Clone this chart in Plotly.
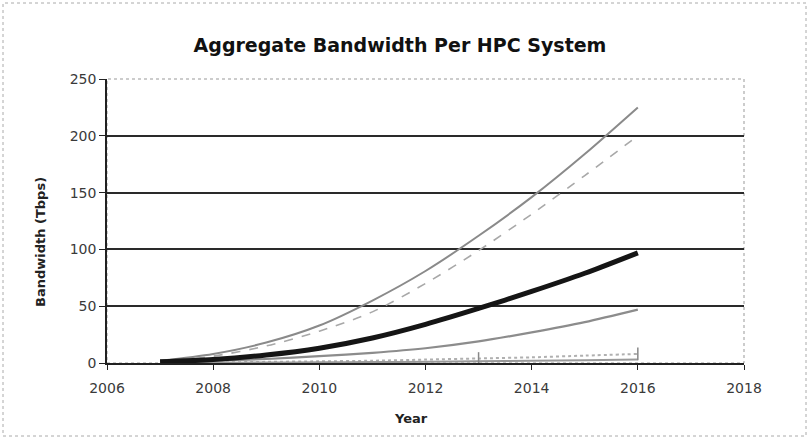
import plotly.graph_objects as go

# Projected aggregate bandwidth per HPC system (Tbps), one value per year
years = [2007, 2008, 2009, 2010, 2011, 2012, 2013, 2014, 2015, 2016]
series_high = [2, 8, 18, 33, 55, 81, 112, 146, 184, 225]
series_upper = [1, 6, 15, 28, 45, 70, 99, 131, 165, 200]
series_main = [1, 3, 7, 13, 22, 34, 48, 63, 79, 97]
series_lower = [0.5, 2, 3.5, 6, 9, 13, 19, 27, 36, 47]
series_low = [0.2, 0.5, 1, 1.5, 2, 3, 4, 5, 6.5, 8]
series_floor = [0.1, 0.2, 0.4, 0.6, 0.8, 1, 1.5, 2, 2.5, 3]
marked_years = [2013, 2016]

x_ticks = [2006, 2008, 2010, 2012, 2014, 2016, 2018]
y_ticks = [0, 50, 100, 150, 200, 250]

W, H = 810, 440
L, R, T, B = 107, 66, 79, 77

fig = go.Figure()

styles = [
    (series_high, dict(color="#8a8a8a", width=2, dash="solid")),
    (series_upper, dict(color="#a8a8a8", width=1.6, dash="dash")),
    (series_lower, dict(color="#8c8c8c", width=2.2, dash="solid")),
    (series_low, dict(color="#b0b0b0", width=2, dash="dot")),
    (series_floor, dict(color="#9a9a9a", width=2, dash="solid")),
    (series_main, dict(color="#151515", width=5, dash="solid")),
]
for vals, line in styles:
    fig.add_trace(go.Scatter(x=years, y=vals, mode="lines",
                             line=dict(shape="spline", smoothing=0.8, **line),
                             showlegend=False, hoverinfo="skip"))

# Small tick markers on the lowest series
mk_x = [y for y in years if y in marked_years]
mk_y = [series_low[years.index(y)] for y in mk_x]
fig.add_trace(go.Scatter(x=mk_x, y=mk_y, mode="markers",
                         marker=dict(symbol="line-ns-open", size=9,
                                     color="#888888",
                                     line=dict(color="#888888", width=1.5)),
                         showlegend=False, hoverinfo="skip"))

pw = W - L - R
ph = H - T - B

fig.update_layout(
    width=W, height=H,
    margin=dict(l=L, r=R, t=T, b=B),
    paper_bgcolor="white", plot_bgcolor="white",
    font=dict(family="DejaVu Sans, Verdana, sans-serif", color="#222222"),
    title=dict(text="<b>Aggregate Bandwidth Per HPC System</b>",
               x=400 / W, xanchor="center",
               y=1 - 45 / H, yanchor="middle",
               font=dict(size=19, color="#111111")),
    xaxis=dict(range=[2006, 2018], tickvals=x_ticks, ticks="outside",
               ticklen=5, tickcolor="#222", tickwidth=1.2,
               ticklabelstandoff=6,
               showline=True, linecolor="#222", linewidth=1.5,
               showgrid=False, zeroline=False,
               tickfont=dict(size=14, color="#3a3a3a")),
    yaxis=dict(range=[0, 250], tickvals=y_ticks, ticks="outside",
               ticklen=6, tickcolor="#222", tickwidth=1.2,
               showline=True, linecolor="#222", linewidth=1.5,
               showgrid=True, gridcolor="#2a2a2a", gridwidth=1.5,
               zeroline=False,
               tickfont=dict(size=14, color="#3a3a3a")),
    annotations=[
        dict(text="<b>Year</b>", xref="paper", yref="paper",
             x=(411 - L) / pw, y=-(418 - T - ph) / ph,
             xanchor="center", yanchor="middle", showarrow=False,
             font=dict(size=13, color="#222")),
        dict(text="<b>Bandwidth (Tbps)</b>", xref="paper", yref="paper",
             x=(40 - L) / pw, y=1 - (242 - T) / ph, textangle=-90,
             xanchor="center", yanchor="middle", showarrow=False,
             font=dict(size=13, color="#222")),
    ],
)

# Dotted border on top/right of plot area and around the whole chart
fig.add_shape(type="rect", xref="paper", yref="paper", x0=0, y0=0, x1=1, y1=1,
              line=dict(color="#999999", width=1, dash="dot"), layer="below")
fig.add_shape(type="rect", xref="paper", yref="paper",
              x0=(3 - L) / pw, x1=(W - 4 - L) / pw,
              y0=-(H - 4 - T - ph) / ph, y1=1 + (T - 3) / ph,
              line=dict(color="#aaaaaa", width=1, dash="dot"))

fig.write_html("out.html")
